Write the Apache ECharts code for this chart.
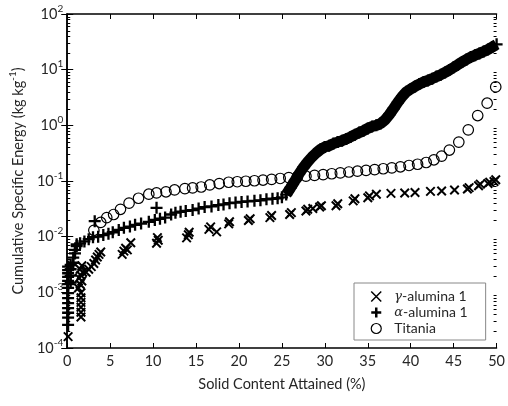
<!DOCTYPE html>
<html><head><meta charset="utf-8">
<script src="https://cdn.jsdelivr.net/npm/echarts@6/dist/echarts.min.js"></script>
<style>html,body{margin:0;padding:0;background:#fff}#c{width:508px;height:406px}</style>
</head><body><div id="c"></div>
<script>
// ---- data ----
const xTickValues = [0, 5, 10, 15, 20, 25, 30, 35, 40, 45, 50];
const yDecades = [-4, -3, -2, -1, 0, 1, 2];

const gammaAlumina = [
  [0.1,1.6e-4],
  [1.6,3.6e-4],[1.6,4.4e-4],[1.6,5.4e-4],[1.6,6.6e-4],[1.6,8.0e-4],[1.6,9.8e-4],
  [1.3,1.2e-3],[1.5,1.4e-3],[1.7,1.6e-3],[1.4,1.8e-3],[1.6,2.0e-3],[1.8,2.3e-3],[1.5,2.6e-3],[1.7,3.0e-3],
  [2.2,2.3e-3],[2.5,2.6e-3],[2.8,2.9e-3],[3.1,3.3e-3],[3.3,3.8e-3],[3.5,4.3e-3],[3.7,4.8e-3],[3.9,5.3e-3],
  [6.4,4.8e-3],[6.6,5.5e-3],[6.8,6.2e-3],[7.0,5.8e-3],[7.4,7.8e-3],
  [10.4,7.6e-3],[10.6,8.6e-3],[10.5,9.6e-3],
  [13.9,0.0095],[14.1,0.0108],[14.2,0.0120],
  [16.5,0.0135],[16.7,0.0150],[17.4,0.0122],
  [18.8,0.0170],[18.9,0.0185],
  [21.1,0.0195],[21.3,0.021],
  [23.6,0.022],[23.8,0.024],
  [25.9,0.025],[26.1,0.027],
  [27.8,0.029],[28.0,0.031],[28.6,0.032],
  [29.4,0.034],[29.6,0.036],
  [31.3,0.036],[31.5,0.039],
  [33.3,0.044],[33.5,0.048],
  [35.0,0.050],[35.2,0.054],[36.0,0.058],
  [37.7,0.060],[39.3,0.061],[40.5,0.062],[42.3,0.065],[43.6,0.066],[45.1,0.069],
  [46.6,0.072],[46.8,0.076],
  [47.9,0.082],[48.1,0.088],
  [49.0,0.090],[49.2,0.095],
  [49.7,0.098],[49.9,0.105]
];

const alphaAluminaDiscrete = [
  [0.1,2.6e-4],[0.1,3.5e-4],[0.1,4.3e-4],[0.1,5.2e-4],[0.1,6.4e-4],[0.1,7.9e-4],[0.1,9.7e-4],
  [0.1,1.2e-3],[0.1,1.4e-3],[0.1,1.6e-3],[0.1,1.9e-3],[0.1,2.2e-3],[0.1,2.5e-3],[0.1,2.9e-3],
  [0.4,1.5e-3],[0.4,2.0e-3],[0.4,2.6e-3],[0.4,3.1e-3],
  [0.7,3.4e-3],[0.7,4.2e-3],[0.9,5.0e-3],[0.9,5.8e-3],[1.1,6.8e-3],[1.1,7.3e-3],
  [1.5,7.6e-3],[2.0,8.2e-3],[2.5,9.0e-3],[3.0,9.8e-3],[3.2,0.019],
  [3.6,0.0100],[4.2,0.0107],[4.8,0.0113],[5.3,0.0120],[6.0,0.0132],[6.6,0.0144],
  [7.3,0.0152],[7.9,0.0163],[8.6,0.0172],[9.5,0.0185],[10.4,0.033],[10.2,0.020],
  [10.8,0.021],[11.4,0.022],[12.1,0.025],[12.6,0.027],[13.2,0.028],[13.8,0.029],
  [14.6,0.030],[15.3,0.032],[16.0,0.034],[16.8,0.035],[17.6,0.037],[18.2,0.038],
  [18.9,0.040],[19.6,0.041],[20.3,0.042],[21.0,0.043],[21.8,0.044],[22.5,0.045],
  [23.2,0.047],[23.9,0.048],[24.5,0.049],[25.0,0.051]
];

const alphaAluminaDense = [
  [25.5,0.057],[26.0,0.075],[26.5,0.10],[27.0,0.135],[27.5,0.175],[28.0,0.22],[28.5,0.27],
  [29.0,0.32],[29.5,0.37],[30.0,0.41],[30.5,0.43],[31.0,0.47],[31.5,0.50],[32.0,0.53],
  [32.5,0.57],[33.0,0.62],[33.5,0.68],[34.0,0.74],[34.5,0.80],[35.0,0.88],[35.5,0.95],
  [36.0,1.00],[36.5,1.08],[37.0,1.25],[37.5,1.55],[38.0,2.0],[38.5,2.6],[39.0,3.3],
  [39.5,4.0],[40.0,4.5],[40.5,5.0],[41.0,5.5],[41.5,6.0],[42.0,6.4],[42.5,6.9],[43.0,7.5],
  [43.5,8.1],[44.0,8.9],[44.5,9.9],[45.0,11.0],[45.5,12.3],[46.0,13.8],[46.5,15.3],
  [47.0,16.8],[47.5,18.2],[48.0,19.6],[48.5,21.2],[49.0,23.0],[49.5,25.5],[50.0,28.5]
];

const titania = [
  [3.1,0.013],[3.9,0.018],[4.6,0.022],[5.4,0.025],[6.2,0.031],[7.2,0.040],[8.3,0.049],
  [9.5,0.058],[10.4,0.061],[11.5,0.064],[12.5,0.069],[13.7,0.073],[14.6,0.075],[15.6,0.078],
  [16.6,0.085],[17.7,0.090],[18.8,0.095],[19.8,0.097],[20.8,0.099],[21.8,0.101],[22.8,0.104],
  [23.8,0.107],[24.8,0.111],[25.8,0.115],[26.8,0.118],[27.8,0.122],[28.8,0.126],[29.8,0.130],
  [30.8,0.135],[31.8,0.140],[32.8,0.145],[33.8,0.150],[34.8,0.155],[35.8,0.160],[36.8,0.166],
  [37.8,0.172],[38.8,0.180],[39.8,0.190],[40.8,0.200],[41.8,0.215],[42.7,0.24],[43.6,0.28],
  [44.5,0.36],[45.6,0.50],[46.7,0.83],[47.8,1.5],[48.9,2.5],[49.9,4.9]
];

const seriesNames = ['γ-alumina 1', 'α-alumina 1', 'Titania'];

// minor tick positions (2..9 within each decade) for the log axis
const minorTicks = [];
for (let i = 0; i < yDecades.length - 1; i++) {
  for (let m = 2; m <= 9; m++) minorTicks.push([0, m * Math.pow(10, yDecades[i])]);
}

// ---- chart ----
const FONT = 'Lato';
const FS = 14.5;
const TXT = '#262626';
const X_SYM = 'path://M0,0L10,10M10,0L0,10';
const PLUS_SYM = 'path://M5,0L5,10M0,5L10,5';
const chart = echarts.init(document.getElementById('c'), null, {renderer: 'canvas'});

const axisLineStyle = {show: true, lineStyle: {color: '#000', width: 1.5}};

chart.setOption({
  animation: false,
  backgroundColor: '#fff',
  grid: {left: 62, right: 6, top: 14, bottom: 58, containLabel: false},
  xAxis: [{
    type: 'value', min: xTickValues[0], max: xTickValues[xTickValues.length - 1], interval: 5,
    position: 'bottom',
    axisLine: axisLineStyle,
    axisTick: {show: true, inside: true, length: 5, lineStyle: {color: '#000', width: 1}},
    axisLabel: {color: TXT, fontFamily: FONT, fontSize: FS, margin: 6},
    splitLine: {show: false},
    name: 'Solid Content Attained (%)', nameLocation: 'middle', nameGap: 29,
    nameTextStyle: {color: TXT, fontFamily: FONT, fontSize: FS}
  }, {
    type: 'value', min: 0, max: 50, interval: 5, position: 'top',
    axisLine: axisLineStyle,
    axisTick: {show: true, inside: true, length: 5, lineStyle: {color: '#000', width: 1}},
    axisLabel: {show: false}, splitLine: {show: false}
  }],
  yAxis: [{
    type: 'log', logBase: 10, min: Math.pow(10, yDecades[0]), max: Math.pow(10, yDecades[yDecades.length - 1]),
    position: 'left',
    axisLine: axisLineStyle,
    axisTick: {show: true, inside: true, length: 6, lineStyle: {color: '#000', width: 1}},
    axisLabel: {
      margin: 4,
      formatter: function (v) {
        const e = Math.round(Math.log10(v));
        return '{b|10}{s|' + e + '}';
      },
      rich: {
        b: {fontFamily: FONT, fontSize: FS, color: TXT},
        s: {fontFamily: FONT, fontSize: 10, color: TXT, padding: [0, 0, 11, 0]}
      }
    },
    splitLine: {show: false},
    name: 'Cumulative Specific Energy (kg kg{s|-1})',
    nameLocation: 'middle', nameGap: 36,
    nameTextStyle: {
      color: TXT, fontFamily: FONT, fontSize: FS,
      rich: {s: {fontFamily: FONT, fontSize: 10, color: TXT, padding: [0, 0, 11, 0]}}
    }
  }, {
    type: 'log', logBase: 10, min: Math.pow(10, yDecades[0]), max: Math.pow(10, yDecades[yDecades.length - 1]),
    position: 'right',
    axisLine: axisLineStyle,
    axisTick: {show: true, inside: true, length: 6, lineStyle: {color: '#000', width: 1}},
    axisLabel: {show: false}, splitLine: {show: false}
  }],
  legend: {
    orient: 'vertical', left: 354, top: 283,
    padding: [6, 18, 4, 16],
    itemWidth: 26, itemHeight: 10, itemGap: 1,
    backgroundColor: '#fff', borderColor: '#888', borderWidth: 1, borderRadius: 0,
    textStyle: {
      color: TXT, fontFamily: FONT, fontSize: 14, lineHeight: 15,
      rich: {i: {fontFamily: 'DejaVu Serif', fontStyle: 'italic', fontSize: 13, color: TXT}}
    },
    formatter: function (name) {
      if (name === seriesNames[0]) return '{i|γ}-alumina 1';
      if (name === seriesNames[1]) return '{i|α}-alumina 1';
      return name;
    },
    data: [
      {name: seriesNames[0], icon: X_SYM, itemStyle: {color: 'rgba(0,0,0,0)', borderColor: '#000', borderWidth: 1.5}},
      {name: seriesNames[1], icon: PLUS_SYM, itemStyle: {color: 'rgba(0,0,0,0)', borderColor: '#000', borderWidth: 2.5}},
      {name: seriesNames[2], icon: 'circle', itemStyle: {color: 'rgba(0,0,0,0)', borderColor: '#000', borderWidth: 1.2}}
    ]
  },
  series: [{
    type: 'custom', name: 'minorTicks', silent: true, xAxisIndex: 0, yAxisIndex: 0,
    data: minorTicks,
    renderItem: function (params, api) {
      const cs = params.coordSys;
      const y = Math.round(api.coord([0, api.value(1)])[1]) + 0.5;
      return {type: 'group', children: [
        {type: 'line', shape: {x1: cs.x, y1: y, x2: cs.x + 3, y2: y}, style: {stroke: '#000', lineWidth: 1}},
        {type: 'line', shape: {x1: cs.x + cs.width, y1: y, x2: cs.x + cs.width - 3, y2: y}, style: {stroke: '#000', lineWidth: 1}}
      ]};
    }
  }, {
    type: 'scatter', name: seriesNames[0], data: gammaAlumina,
    symbol: X_SYM, symbolSize: 8.5,
    itemStyle: {color: 'rgba(0,0,0,0)', borderColor: '#000', borderWidth: 2, opacity: 1}
  }, {
    type: 'scatter', name: seriesNames[1], data: alphaAluminaDiscrete,
    symbol: PLUS_SYM, symbolSize: 12,
    itemStyle: {color: 'rgba(0,0,0,0)', borderColor: '#000', borderWidth: 2.3, opacity: 1}
  }, {
    type: 'line', name: seriesNames[1], data: alphaAluminaDense,
    symbol: PLUS_SYM, symbolSize: 12, showSymbol: true, showAllSymbol: true,
    lineStyle: {color: '#000', width: 11},
    itemStyle: {color: 'rgba(0,0,0,0)', borderColor: '#000', borderWidth: 2.3, opacity: 1},
    z: 3
  }, {
    type: 'scatter', name: seriesNames[2], data: titania,
    symbol: 'circle', symbolSize: 10.5,
    itemStyle: {color: 'rgba(0,0,0,0)', borderColor: '#000', borderWidth: 1.2, opacity: 1}
  }]
});
</script>
</body></html>
